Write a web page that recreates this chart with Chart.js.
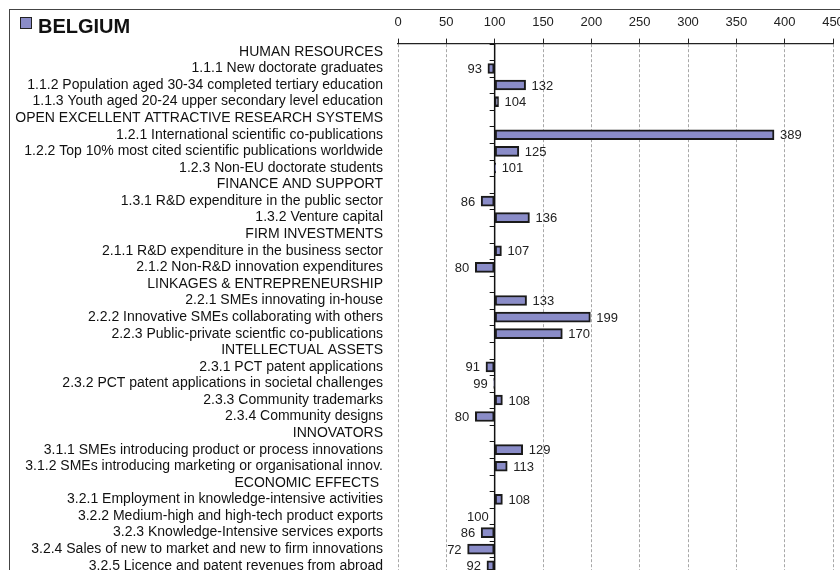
<!DOCTYPE html>
<html>
<head>
<meta charset="utf-8">
<title>Belgium</title>
<script src="https://cdn.jsdelivr.net/npm/chart.js@4.4.0/dist/chart.umd.min.js"></script>
<style>
    html, body { margin: 0; padding: 0; background: #fff; overflow: hidden; }
    #scoreChart { position: absolute; left: 0; top: 0; }
    #frame { position: absolute; left: 9px; top: 9px; width: 840px; height: 600px;
             border-left: 1px solid #444; border-top: 1px solid #444; pointer-events: none; }
    #icon { position: absolute; left: 20px; top: 17px; width: 12px; height: 12px; box-sizing: border-box;
            background: #8a8cc8; border: 1.5px solid #222; }
    #title { position: absolute; left: 38px; top: 15px; line-height: 20px;
             font: bold 20px "Liberation Sans", Arial, sans-serif; color: #111; }
</style>
</head>
<body>
<canvas id="scoreChart" width="840" height="576"></canvas>
<div id="frame"></div>
<div id="icon"></div>
<div id="title">BELGIUM</div>
<script>
const indicators = [
    "HUMAN RESOURCES",
    "1.1.1 New doctorate graduates",
    "1.1.2 Population aged 30-34 completed tertiary education",
    "1.1.3 Youth aged 20-24 upper secondary level education",
    "OPEN EXCELLENT ATTRACTIVE RESEARCH SYSTEMS",
    "1.2.1 International scientific co-publications",
    "1.2.2 Top 10% most cited scientific publications worldwide",
    "1.2.3 Non-EU doctorate students",
    "FINANCE AND SUPPORT",
    "1.3.1 R&D expenditure in the public sector",
    "1.3.2 Venture capital",
    "FIRM INVESTMENTS",
    "2.1.1 R&D expenditure in the business sector",
    "2.1.2 Non-R&D innovation expenditures",
    "LINKAGES & ENTREPRENEURSHIP",
    "2.2.1 SMEs innovating in-house",
    "2.2.2 Innovative SMEs collaborating with others",
    "2.2.3 Public-private scientfic co-publications",
    "INTELLECTUAL ASSETS",
    "2.3.1 PCT patent applications",
    "2.3.2 PCT patent applications in societal challenges",
    "2.3.3 Community trademarks",
    "2.3.4 Community designs",
    "INNOVATORS",
    "3.1.1 SMEs introducing product or process innovations",
    "3.1.2 SMEs introducing marketing or organisational innov.",
    "ECONOMIC EFFECTS ",
    "3.2.1 Employment in knowledge-intensive activities",
    "3.2.2 Medium-high and high-tech product exports",
    "3.2.3 Knowledge-Intensive services exports",
    "3.2.4 Sales of new to market and new to firm innovations",
    "3.2.5 Licence and patent revenues from abroad"
];

// null = section header, no bar
const scores = [
    null, 93, 132, 104,
    null, 389, 125, 101,
    null, 86, 136,
    null, 107, 80,
    null, 133, 199, 170,
    null, 91, 99, 108, 80,
    null, 129, 113,
    null, 108, 100, 86, 72, 92
];

const BASE = 100;
const axisMin = 0;
const axisMax = 450;
const axisStep = 50;

const FONT = '"Liberation Sans", Arial, sans-serif';
Chart.defaults.font.family = FONT;
Chart.defaults.font.size = 13;

// solid line at 100 with small ticks between rows
const baseAxis = {
    id: "baseAxis",
    beforeDatasetsDraw(chart) {
        const ctx = chart.ctx;
        const xs = chart.scales.x, ys = chart.scales.y;
        const x = xs.getPixelForValue(BASE);
        const step = ys.getPixelForValue(1) - ys.getPixelForValue(0);
        ctx.save();
        ctx.strokeStyle = "#111";
        ctx.lineWidth = 1.5;
        ctx.beginPath();
        ctx.moveTo(x, chart.chartArea.top);
        ctx.lineTo(x, chart.chartArea.bottom);
        ctx.stroke();
        ctx.lineWidth = 1;
        for (let i = 0; i <= indicators.length; i++) {
            const y = Math.round(ys.getPixelForValue(i) - step / 2) + 0.5;
            ctx.beginPath();
            ctx.moveTo(x - 5, y);
            ctx.lineTo(x, y);
            ctx.stroke();
        }
        ctx.restore();
    }
};

const valueLabels = {
    id: "valueLabels",
    afterDatasetsDraw(chart) {
        const ctx = chart.ctx;
        const meta = chart.getDatasetMeta(0);
        ctx.save();
        ctx.font = "13px " + FONT;
        ctx.fillStyle = "#222";
        ctx.textBaseline = "middle";
        meta.data.forEach((bar, i) => {
            const v = scores[i];
            if (v == null) return;
            const right = v > BASE;
            ctx.textAlign = right ? "left" : "right";
            ctx.fillText(String(v), bar.x + (right ? 6 : -6), bar.y + 1);
        });
        ctx.restore();
    }
};

new Chart(document.getElementById("scoreChart"), {
    type: "bar",
    data: {
        labels: indicators,
        datasets: [{
            data: scores,
            base: BASE,
            backgroundColor: "#8a8cc8",
            borderColor: "#1a1a1a",
            borderWidth: 2,
            borderSkipped: false,
            barThickness: 10
        }]
    },
    options: {
        indexAxis: "y",
        responsive: false,
        animation: false,
        layout: { padding: { top: 7, right: 7, bottom: 2, left: 0 } },
        plugins: { legend: { display: false }, tooltip: { enabled: false } },
        scales: {
            x: {
                position: "top",
                min: axisMin,
                max: axisMax,
                ticks: { stepSize: axisStep, padding: 8, color: "#222" },
                grid: { color: "#a8a8a8", lineWidth: 1, tickColor: "#222", tickLength: 5, tickBorderDash: [] },
                border: { display: true, color: "#222", width: 1.2, dash: [3, 2] },
                afterFit(s) { s.paddingLeft = 0; s.paddingRight = 0; }
            },
            y: {
                grid: { display: false, drawTicks: false },
                border: { display: false },
                ticks: { padding: 15, color: "#111", autoSkip: false, font: { size: 14 } },
                afterFit(s) { s.width = 398; s.paddingTop = 0; s.paddingBottom = 0; }
            }
        }
    },
    plugins: [baseAxis, valueLabels]
});
</script>
</body>
</html>
